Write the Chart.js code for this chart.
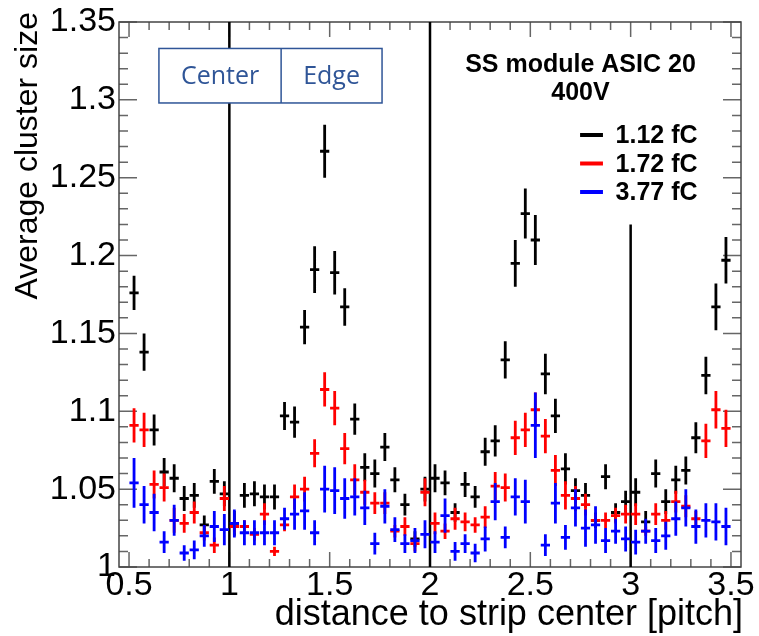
<!DOCTYPE html>
<html>
<head>
<meta charset="utf-8">
<script src="https://cdn.jsdelivr.net/npm/chart.js@4.4.1/dist/chart.umd.min.js"></script>
<style>
  html, body { margin: 0; padding: 0; background: #fff; }
  #wrap { width: 759px; height: 636px; }
</style>
</head>
<body>
<div id="wrap"><canvas id="clusterSizeChart" width="759" height="636"></canvas></div>
<script>
// bin centres, distance to strip centre in units of pitch
var binCenters = [
  0.525, 0.575, 0.625, 0.675, 0.725, 0.775, 0.825, 0.875, 0.925, 0.975,
  1.025, 1.075, 1.125, 1.175, 1.225, 1.275, 1.325, 1.375, 1.425, 1.475,
  1.525, 1.575, 1.625, 1.675, 1.725, 1.775, 1.825, 1.875, 1.925, 1.975,
  2.025, 2.075, 2.125, 2.175, 2.225, 2.275, 2.325, 2.375, 2.425, 2.475,
  2.525, 2.575, 2.625, 2.675, 2.725, 2.775, 2.825, 2.875, 2.925, 2.975,
  3.025, 3.075, 3.125, 3.175, 3.225, 3.275, 3.325, 3.375, 3.425, 3.475
];

var thresholds = ['1.12 fC', '1.72 fC', '3.77 fC'];
var seriesColors = ['#000000', '#ff0000', '#0000ff'];

// 1.12 fC
var size112 = [
  1.176, 1.138, 1.088, 1.061, 1.057, 1.044, 1.046, 1.027, 1.055, 1.047,
  1.028, 1.046, 1.047, 1.045, 1.045, 1.097, 1.093, 1.154, 1.191, 1.267,
  1.189, 1.167, 1.095, 1.064, 1.060, 1.077, 1.056, 1.040, 1.018, 1.050,
  1.057, 1.054, 1.035, 1.053, 1.045, 1.074, 1.081, 1.133, 1.195, 1.227,
  1.210, 1.124, 1.097, 1.063, 1.049, 1.046, 1.030, 1.058, 1.035, 1.042,
  1.048, 1.029, 1.060, 1.042, 1.056, 1.062, 1.083, 1.123, 1.167, 1.197
];
var err112 = [
  0.011, 0.012, 0.010, 0.009, 0.009, 0.008, 0.008, 0.006, 0.008, 0.008,
  0.008, 0.008, 0.008, 0.008, 0.008, 0.009, 0.010, 0.011, 0.015, 0.017,
  0.014, 0.012, 0.010, 0.009, 0.009, 0.009, 0.008, 0.007, 0.005, 0.008,
  0.009, 0.008, 0.006, 0.008, 0.007, 0.009, 0.010, 0.012, 0.015, 0.016,
  0.016, 0.013, 0.011, 0.010, 0.008, 0.008, 0.005, 0.008, 0.006, 0.007,
  0.009, 0.007, 0.009, 0.008, 0.009, 0.009, 0.010, 0.012, 0.015, 0.015
];

// 1.72 fC
var size172 = [
  1.091, 1.088, 1.053, 1.051, 1.030, 1.028, 1.035, 1.022, 1.014, 1.044,
  1.026, 1.026, 1.021, 1.034, 1.010, 1.027, 1.045, 1.050, 1.073, 1.114,
  1.102, 1.076, 1.056, 1.048, 1.041, 1.041, 1.023, 1.026, 1.015, 1.048,
  1.028, 1.023, 1.031, 1.029, 1.027, 1.032, 1.052, 1.051, 1.083, 1.088,
  1.101, 1.084, 1.062, 1.046, 1.044, 1.040, 1.030, 1.030, 1.033, 1.034,
  1.034, 1.023, 1.034, 1.030, 1.042, 1.039, 1.031, 1.081, 1.101, 1.089
];
var err172 = [
  0.011, 0.011, 0.009, 0.009, 0.008, 0.006, 0.007, 0.005, 0.005, 0.008,
  0.004, 0.004, 0.004, 0.007, 0.003, 0.004, 0.008, 0.008, 0.009, 0.011,
  0.011, 0.010, 0.010, 0.008, 0.007, 0.007, 0.004, 0.006, 0.005, 0.009,
  0.007, 0.005, 0.007, 0.006, 0.005, 0.007, 0.009, 0.009, 0.011, 0.011,
  0.011, 0.011, 0.010, 0.009, 0.008, 0.007, 0.004, 0.005, 0.005, 0.006,
  0.007, 0.003, 0.007, 0.006, 0.007, 0.007, 0.005, 0.011, 0.012, 0.012
];

// 3.77 fC
var size377 = [
  1.054, 1.040, 1.035, 1.016, 1.030, 1.009, 1.011, 1.020, 1.026, 1.024,
  1.028, 1.022, 1.022, 1.022, 1.022, 1.031, 1.034, 1.036, 1.022, 1.050,
  1.049, 1.044, 1.045, 1.038, 1.015, 1.039, 1.024, 1.015, 1.017, 1.021,
  1.016, 1.033, 1.010, 1.015, 1.009, 1.018, 1.042, 1.019, 1.045, 1.042,
  1.091, 1.014, 1.041, 1.019, 1.038, 1.025, 1.027, 1.017, 1.023, 1.018,
  1.016, 1.023, 1.017, 1.020, 1.031, 1.038, 1.026, 1.030, 1.029, 1.026
];
var err377 = [
  0.016, 0.012, 0.012, 0.007, 0.010, 0.005, 0.006, 0.007, 0.010, 0.010,
  0.009, 0.008, 0.008, 0.008, 0.008, 0.007, 0.010, 0.012, 0.008, 0.015,
  0.015, 0.013, 0.012, 0.011, 0.007, 0.011, 0.008, 0.006, 0.008, 0.009,
  0.007, 0.011, 0.006, 0.006, 0.006, 0.008, 0.012, 0.007, 0.012, 0.014,
  0.021, 0.007, 0.013, 0.008, 0.012, 0.012, 0.012, 0.008, 0.008, 0.008,
  0.008, 0.008, 0.008, 0.009, 0.011, 0.012, 0.011, 0.011, 0.012, 0.012
];

var xTicks = [0.5, 1, 1.5, 2, 2.5, 3, 3.5];
var yTicks = [1, 1.05, 1.1, 1.15, 1.2, 1.25, 1.3, 1.35];

// strip boundaries drawn as vertical lines
var dividerX = [1, 2, 3];
var dividerTop = [1.35, 1.35, 1.22];

var halfBin = 0.023;

// vertical + horizontal error bar segments, separated by gaps
function errorBars(values, errors) {
  var pts = [];
  values.forEach(function (v, i) {
    var x = binCenters[i];
    pts.push({x: x, y: v - errors[i]}, {x: x, y: v + errors[i]}, {x: x, y: null});
    pts.push({x: x - halfBin, y: v}, {x: x + halfBin, y: v}, {x: x, y: null});
  });
  return pts;
}

function dividerPoints() {
  var pts = [];
  dividerX.forEach(function (x, i) {
    pts.push({x: x, y: 1}, {x: x, y: dividerTop[i]}, {x: x, y: null});
  });
  return pts;
}

var decorations = {
  id: 'decorations',
  beforeDatasetsDraw: function (chart) {
    var ctx = chart.ctx, a = chart.chartArea;
    var xs = chart.scales.x, ys = chart.scales.y;
    ctx.save();
    ctx.strokeStyle = '#666';
    ctx.lineWidth = 1.5;
    ctx.beginPath();
    for (var i = 0; i <= 30; i++) {
      var xv = 0.5 + i * 0.1;
      var px = xs.getPixelForValue(xv);
      var len = (i % 5 === 0) ? 15 : 8;
      ctx.moveTo(px, a.bottom); ctx.lineTo(px, a.bottom - len);
      ctx.moveTo(px, a.top); ctx.lineTo(px, a.top + len);
    }
    for (var j = 0; j <= 35; j++) {
      var yv = 1 + j * 0.01;
      var py = ys.getPixelForValue(yv);
      var ylen = (j % 5 === 0) ? 18 : 9;
      ctx.moveTo(a.left, py); ctx.lineTo(a.left + ylen, py);
      ctx.moveTo(a.right, py); ctx.lineTo(a.right - ylen, py);
    }
    ctx.stroke();
    ctx.strokeStyle = '#444';
    ctx.strokeRect(a.left, a.top, a.right - a.left, a.bottom - a.top);
    ctx.restore();
  },
  afterDatasetsDraw: function (chart) {
    var ctx = chart.ctx, a = chart.chartArea;
    var xs = chart.scales.x, ys = chart.scales.y;
    ctx.save();

    // Center / Edge boxes
    var bx0 = xs.getPixelForValue(0.649), bx1 = xs.getPixelForValue(1.258), bx2 = xs.getPixelForValue(1.761);
    var by0 = ys.getPixelForValue(1.333), by1 = ys.getPixelForValue(1.298);
    ctx.fillStyle = '#fff';
    ctx.fillRect(bx0, by0, bx2 - bx0, by1 - by0);
    ctx.strokeStyle = '#2f5597';
    ctx.lineWidth = 1.5;
    ctx.strokeRect(bx0, by0, bx2 - bx0, by1 - by0);
    ctx.beginPath();
    ctx.moveTo(bx1, by0); ctx.lineTo(bx1, by1);
    ctx.stroke();
    ctx.fillStyle = '#2f5597';
    ctx.font = '25px "Open Sans"';
    ctx.textAlign = 'center';
    ctx.textBaseline = 'middle';
    ctx.fillText('Center', (bx0 + bx1) / 2, (by0 + by1) / 2 + 1);
    ctx.fillText('Edge', (bx1 + bx2) / 2, (by0 + by1) / 2 + 1);

    // header text
    var cx = xs.getPixelForValue(2.75);
    ctx.fillStyle = '#000';
    ctx.font = 'bold 25px "Liberation Sans"';
    ctx.textBaseline = 'alphabetic';
    ctx.fillText('SS module ASIC 20', cx, a.top + 50);
    ctx.fillText('400V', cx, a.top + 78);

    // legend
    var lx0 = xs.getPixelForValue(2.748), lx1 = xs.getPixelForValue(2.862), tx = xs.getPixelForValue(2.925);
    var rows = [a.top + 113, a.top + 141.5, a.top + 170];
    thresholds.forEach(function (label, i) {
      ctx.strokeStyle = seriesColors[i];
      ctx.lineWidth = 4;
      ctx.beginPath();
      ctx.moveTo(lx0, rows[i]); ctx.lineTo(lx1, rows[i]);
      ctx.stroke();
      ctx.fillStyle = '#000';
      ctx.textAlign = 'left';
      ctx.textBaseline = 'alphabetic';
      ctx.fillText(label, tx, rows[i] + 8);
    });

    // axis titles
    ctx.font = '36px "Liberation Sans"';
    ctx.textAlign = 'right';
    ctx.fillText('distance to strip center [pitch]', 743, 625);
    ctx.save();
    ctx.translate(37, 12);
    ctx.rotate(-Math.PI / 2);
    ctx.font = '32px "Liberation Sans"';
    ctx.textAlign = 'right';
    ctx.fillText('Average cluster size', 0, 0);
    ctx.restore();

    ctx.restore();
  }
};

var ctx = document.getElementById('clusterSizeChart').getContext('2d');

new Chart(ctx, {
  type: 'line',
  data: {
    datasets: [
      {label: thresholds[2], data: errorBars(size377, err377), borderColor: seriesColors[2], order: 1},
      {label: thresholds[1], data: errorBars(size172, err172), borderColor: seriesColors[1], order: 2},
      {label: thresholds[0], data: errorBars(size112, err112), borderColor: seriesColors[0], order: 3},
      {label: 'strip edges', data: dividerPoints(), borderColor: '#000000', borderWidth: 2.5, order: 4}
    ]
  },
  options: {
    responsive: false,
    animation: false,
    devicePixelRatio: 1,
    spanGaps: false,
    layout: {padding: {top: 22, right: 18, left: 0, bottom: 0}},
    elements: {
      point: {radius: 0, hoverRadius: 0},
      line: {borderWidth: 2.8, tension: 0, borderCapStyle: 'butt', fill: false}
    },
    plugins: {
      legend: {display: false},
      tooltip: {enabled: false}
    },
    scales: {
      x: {
        type: 'linear',
        min: 0.45,
        max: 3.55,
        grid: {display: false},
        border: {display: false},
        afterBuildTicks: function (scale) {
          scale.ticks = xTicks.map(function (v) { return {value: v}; });
        },
        afterFit: function (scale) {
          scale.height = 69;
          scale.paddingLeft = 0;
          scale.paddingRight = 0;
        },
        ticks: {
          autoSkip: false,
          maxRotation: 0,
          padding: -10,
          color: '#000',
          font: {family: 'Liberation Sans', size: 34},
          callback: function (value) { return String(value); }
        }
      },
      y: {
        type: 'linear',
        min: 1,
        max: 1.35,
        grid: {display: false},
        border: {display: false},
        afterBuildTicks: function (scale) {
          scale.ticks = yTicks.map(function (v) { return {value: v}; });
        },
        afterFit: function (scale) {
          scale.width = 119;
          scale.paddingTop = 0;
          scale.paddingBottom = 0;
        },
        ticks: {
          autoSkip: false,
          padding: -5,
          color: '#000',
          font: {family: 'Liberation Sans', size: 34},
          callback: function (value) { return String(value); }
        }
      }
    }
  },
  plugins: [decorations]
});
</script>
</body>
</html>
